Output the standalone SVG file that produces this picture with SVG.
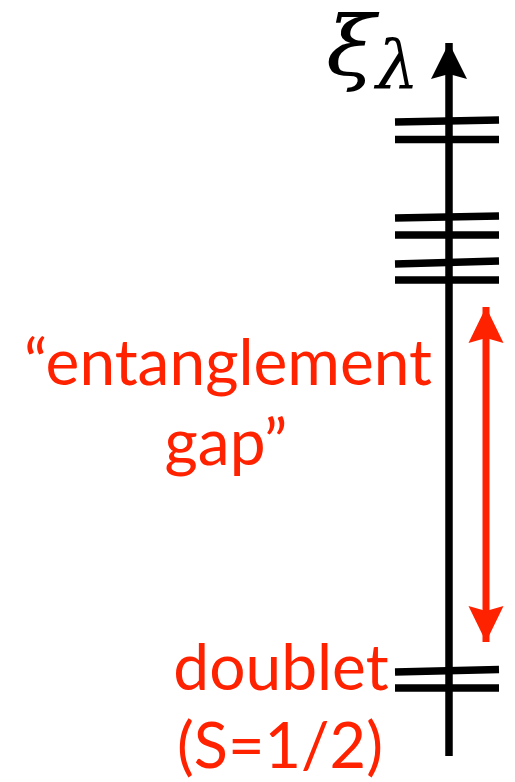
<svg xmlns="http://www.w3.org/2000/svg" width="515" height="782" viewBox="0 0 515 782">
<style>
.lvl{stroke:#000;stroke-width:7.5;fill:none}
.lbl{font-family:Lato,"Open Sans",sans-serif;fill:#ff2200;text-anchor:middle}
</style>
<defs>
<marker id="ah" markerUnits="userSpaceOnUse" markerWidth="40" markerHeight="40" viewBox="0 0 40 40" refX="36" refY="20" orient="auto">
<path d="M0,2 L36,20 L0,38 L5,20 Z" fill="#000"/>
</marker>
<marker id="rh" markerUnits="userSpaceOnUse" markerWidth="40" markerHeight="40" viewBox="0 0 40 40" refX="36" refY="20" orient="auto-start-reverse">
<path d="M0,2.5 L36,20 L0,37.5 L5,20 Z" fill="#ff2200"/>
</marker>
</defs>
<g id="axis">
<line x1="449" y1="756" x2="449" y2="43" stroke="#000" stroke-width="7.5" marker-end="url(#ah)"/>
<text transform="translate(326,75) scale(1.1,1)" x="0" y="0" font-family="'DejaVu Serif','Liberation Serif',serif" font-style="italic" font-size="82" fill="#000">ξ</text>
<text x="376" y="88" font-family="'DejaVu Serif','Liberation Serif',serif" font-style="italic" font-size="68" fill="#000">λ</text>
</g>
<g id="levels">
<line class="lvl" x1="395" y1="122" x2="499" y2="120"/>
<line class="lvl" x1="395" y1="139.5" x2="499" y2="139.5"/>
<line class="lvl" x1="395" y1="218" x2="499" y2="216"/>
<line class="lvl" x1="395" y1="235" x2="499" y2="235"/>
<line class="lvl" x1="395" y1="264" x2="499" y2="261"/>
<line class="lvl" x1="395" y1="280" x2="499" y2="280"/>
<line class="lvl" x1="395" y1="672" x2="499" y2="669.5"/>
<line class="lvl" x1="395" y1="688" x2="499" y2="688"/>
</g>
<g id="connectors">
<line x1="486" y1="307" x2="486" y2="642" stroke="#ff2200" stroke-width="7" marker-start="url(#rh)" marker-end="url(#rh)"/>
</g>
<g id="gap-label">
<text class="lbl" x="228" y="385" font-size="64">“entanglement</text>
<text class="lbl" x="226" y="465" font-size="64">gap”</text>
</g>
<g id="doublet-label">
<text class="lbl" x="281" y="690" font-size="64">doublet</text>
<text class="lbl" x="280" y="768" font-size="63">(S=1/2)</text>
</g>
</svg>
